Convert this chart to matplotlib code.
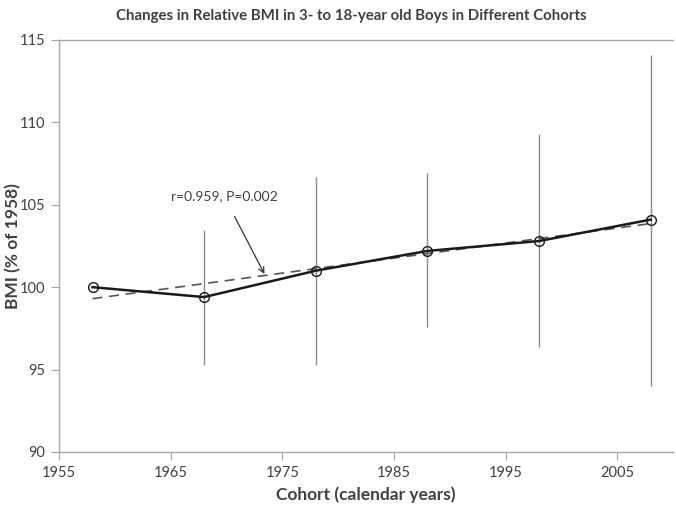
import numpy as np
import matplotlib
matplotlib.use("Agg")
import matplotlib.pyplot as plt

# data
cohort = [1958, 1968, 1978, 1988, 1998, 2008]
bmi_rel = [100.0, 99.4, 101.0, 102.2, 102.8, 104.1]
bmi_low = [100.0, 95.3, 95.3, 97.6, 96.4, 94.0]
bmi_high = [100.0, 103.5, 106.7, 106.9, 109.3, 114.1]
x_ticks = [1955, 1965, 1975, 1985, 1995, 2005]
y_ticks = [90, 95, 100, 105, 110, 115]

plt.rcParams['font.family'] = ['Lato', 'DejaVu Sans']
txt = '#404040'
grey = '#a6a6a6'

fig = plt.figure(figsize=(6.76, 5.05), dpi=100)
ax = fig.add_axes([0.0873, 0.105, 0.9083, 0.8158])

# range bars (vertical lines only, no caps)
ax.vlines(cohort, bmi_low, bmi_high, colors='#8c8c8c', linewidth=1.0, zorder=1)

# linear trend
k, b = np.polyfit(cohort, bmi_rel, 1)
xt = np.array([cohort[0], cohort[-1]])
ax.plot(xt, k * xt + b, linestyle=(0, (6, 4)), color='#555555', linewidth=1.2, zorder=2)

# mean series
ax.plot(cohort, bmi_rel, color='#1a1a1a', linewidth=1.8, marker='o', markersize=7,
        markerfacecolor='none', markeredgecolor='#1a1a1a', markeredgewidth=1.0, zorder=3)

ax.annotate('r=0.959, P=0.002', xy=(1973.4, 100.8), xytext=(1969.8, 105.5),
            ha='center', va='center', fontsize=10, color=txt,
            arrowprops=dict(arrowstyle='->', color='#333333', lw=0.9,
                            shrinkA=9, shrinkB=0))

ax.set_xlim(1955, 2010)
ax.set_ylim(90, 115)
ax.set_xticks(x_ticks)
ax.set_yticks(y_ticks)
ax.tick_params(axis='both', labelsize=10.5, labelcolor=txt, color=grey, length=6, width=0.8)
ax.tick_params(axis='y', pad=4)
ax.tick_params(axis='x', pad=4)

for s in ['left', 'bottom', 'top']:
    ax.spines[s].set_color(grey)
    ax.spines[s].set_linewidth(1.0)
ax.spines['right'].set_visible(False)

ax.set_xlabel('Cohort (calendar years)', fontsize=12.5, fontweight='bold', color=txt, labelpad=5)
ax.set_ylabel('BMI (% of 1958)', fontsize=12.5, fontweight='bold', color=txt)
ax.yaxis.set_label_coords(-0.062, 0.5)
fig.text(0.52, 0.968, 'Changes in Relative BMI in 3- to 18-year old Boys in Different Cohorts',
         ha='center', va='center', fontsize=10.8, fontweight='bold', color=txt)

fig.savefig('out.png', dpi=100)
